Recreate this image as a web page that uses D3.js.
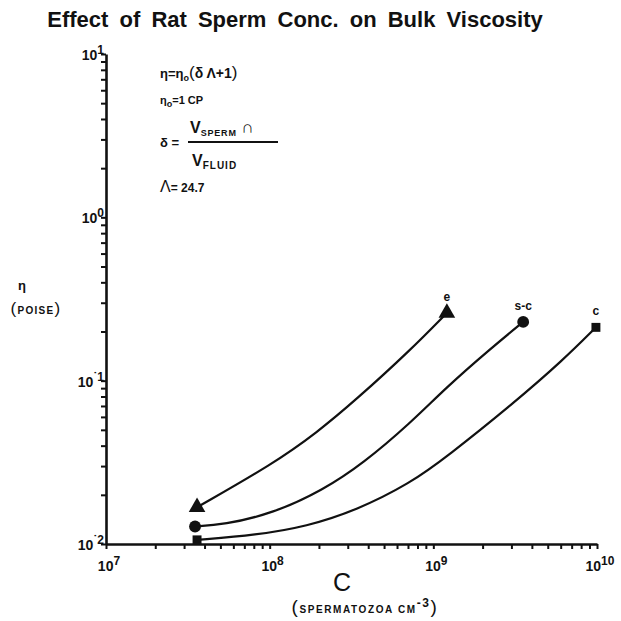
<!DOCTYPE html>
<html>
<head>
<meta charset="utf-8">
<script src="https://cdn.jsdelivr.net/npm/d3@7"></script>
<style>
  body { margin: 0; background: #fff; }
  svg text { font-family: "Liberation Sans", Arial, sans-serif; font-weight: bold; fill: #111; }
</style>
</head>
<body>
<div class="chart-container"></div>
<script>
//! DATA
const seriesNames = ['e', 's-c', 'c']

const eC   = [3.6e7, 1.05e8, 1.94e8, 3.4e8, 7.2e8, 1.21e9]
const eEta = [0.0168, 0.031, 0.048, 0.077, 0.153, 0.26]

const scC   = [3.5e7, 5.2e7, 1.05e8, 2.12e8, 3.73e8, 7.2e8, 1.21e9, 2.22e9, 3.54e9]
const scEta = [0.0128, 0.0131, 0.0154, 0.0214, 0.0312, 0.0547, 0.0917, 0.156, 0.229]

const cC   = [3.6e7, 8.3e7, 1.68e8, 3.4e8, 7.2e8, 1.21e9, 3.08e9, 6.2e9, 9.85e9]
const cEta = [0.0106, 0.01135, 0.0128, 0.0161, 0.0235, 0.0342, 0.0725, 0.1335, 0.212]

const xTickExps = [7, 8, 9, 10]
const yTickExps = [-2, -1, 0, 1]

//! CONSTS
const WIDTH = 621
const HEIGHT = 621

const svg = d3.select('.chart-container')
  .append('svg')
  .attr('width', WIDTH)
  .attr('height', HEIGHT)

//! SCALES
const xScale = d3.scaleLog().domain([1e7, 1e10]).range([106, 597])
const yScale = d3.scaleLog().domain([1e-2, 1e1]).range([544, 54])

//! AXES
const xAxis = d3.axisBottom(xScale)
  .tickValues(xScale.ticks())
  .tickFormat('')
  .tickSize(5)
  .tickSizeOuter(0)

const yAxis = d3.axisLeft(yScale)
  .tickValues(yScale.ticks())
  .tickFormat('')
  .tickSize(5)
  .tickSizeOuter(0)

const gx = svg.append('g').attr('transform', 'translate(0,544)').call(xAxis)
const gy = svg.append('g').attr('transform', 'translate(106,0)').call(yAxis)
;[gx, gy].forEach(g => {
  g.select('.domain').attr('stroke', '#111').attr('stroke-width', 2.6)
  g.selectAll('.tick line').attr('stroke', '#111').attr('stroke-width', 2)
})

// tick labels 10^n
xTickExps.forEach(p => {
  const t = svg.append('text')
    .attr('x', xScale(Math.pow(10, p)) + 3)
    .attr('y', 571)
    .attr('text-anchor', 'middle')
    .style('font-size', '14px')
  t.append('tspan').text('10')
  t.append('tspan').attr('dy', -6).style('font-size', '12px').text(p)
})

yTickExps.forEach(p => {
  const t = svg.append('text')
    .attr('x', 104)
    .attr('y', yScale(Math.pow(10, p)) + 6)
    .attr('text-anchor', 'end')
    .style('font-size', '14px')
  t.append('tspan').text('10')
  t.append('tspan').attr('dy', -6).style('font-size', '12px').text(p < 0 ? '\u02D9' + Math.abs(p) : p)
})

//! TITLE + LABELS
svg.append('text')
  .attr('x', 295).attr('y', 27)
  .attr('text-anchor', 'middle')
  .style('font-size', '22px')
  .style('word-spacing', '5px')
  .text('Effect of Rat Sperm Conc. on Bulk Viscosity')

svg.append('text')
  .attr('x', 342).attr('y', 591)
  .attr('text-anchor', 'middle')
  .style('font-size', '25px')
  .style('font-weight', 'normal')
  .text('C')

const xl = svg.append('text')
  .attr('x', 365).attr('y', 613)
  .attr('text-anchor', 'middle')
  .style('font-size', '10px')
  .style('letter-spacing', '1.6px')
xl.append('tspan').style('font-size', '19px').style('font-weight', 'normal').text('(')
xl.append('tspan').text('SPERMATOZOA  CM')
xl.append('tspan').attr('dy', -6).style('font-size', '12px').text('-3')
xl.append('tspan').attr('dy', 6).style('font-size', '19px').style('font-weight', 'normal').text(')')

svg.append('text')
  .attr('x', 22).attr('y', 290)
  .attr('text-anchor', 'middle')
  .style('font-size', '13px')
  .text('\u03B7')

const yl = svg.append('text')
  .attr('x', 36).attr('y', 314)
  .attr('text-anchor', 'middle')
  .style('font-size', '10px')
  .style('letter-spacing', '1.3px')
yl.append('tspan').style('font-size', '17px').style('font-weight', 'normal').text('(')
yl.append('tspan').text('POISE')
yl.append('tspan').style('font-size', '17px').style('font-weight', 'normal').text(')')

//! EQUATIONS
const eq1 = svg.append('text').attr('x', 160).attr('y', 78).style('font-size', '13px')
eq1.append('tspan').text('\u03B7=\u03B7')
eq1.append('tspan').attr('dy', 3).style('font-size', '9px').text('o')
eq1.append('tspan').attr('dy', -3).style('font-size', '17px').style('font-weight', 'normal').text('(')
eq1.append('tspan').style('font-size', '14px').text('\u03B4 \u039B+1')
eq1.append('tspan').style('font-size', '17px').style('font-weight', 'normal').text(')')

const eq2 = svg.append('text').attr('x', 160).attr('y', 104).style('font-size', '11px')
eq2.append('tspan').text('\u03B7')
eq2.append('tspan').attr('dy', 3).style('font-size', '9px').text('o')
eq2.append('tspan').attr('dy', -3).text('=1 CP')

svg.append('text').attr('x', 160).attr('y', 147).style('font-size', '13px').text('\u03B4 =')

const num = svg.append('text').attr('x', 190).attr('y', 133).style('font-size', '16px')
num.append('tspan').text('V')
num.append('tspan').attr('dy', 3).style('font-size', '9px').style('letter-spacing', '0.8px').text('SPERM')
num.append('tspan').attr('dy', -3).style('font-size', '17px').style('font-weight', 'normal').text(' \u2229')

svg.append('line')
  .attr('x1', 188).attr('x2', 278).attr('y1', 142).attr('y2', 142)
  .attr('stroke', '#111').attr('stroke-width', 2)

const den = svg.append('text').attr('x', 192).attr('y', 166).style('font-size', '16px')
den.append('tspan').text('V')
den.append('tspan').attr('dy', 3).style('font-size', '10px').style('letter-spacing', '1px').text('FLUID')

const eq4 = svg.append('text').attr('x', 160).attr('y', 192).style('font-size', '12px')
eq4.append('tspan').style('font-size', '16px').style('font-weight', 'normal').text('\u039B')
eq4.append('tspan').text('= 24.7')

//! CURVES
const series = [
  { name: seriesNames[0], C: eC, eta: eEta, symbol: d3.symbolTriangle, size: 120 },
  { name: seriesNames[1], C: scC, eta: scEta, symbol: d3.symbolCircle, size: 110 },
  { name: seriesNames[2], C: cC, eta: cEta, symbol: d3.symbolSquare, size: 80 }
]

const line = d3.line()
  .x(d => xScale(d[0]))
  .y(d => yScale(d[1]))
  .curve(d3.curveBasis)

series.forEach(s => {
  const pts = s.C.map((c, i) => [c, s.eta[i]])
  svg.append('path')
    .attr('d', line(pts))
    .attr('fill', 'none')
    .attr('stroke', '#111')
    .attr('stroke-width', 2.2)

  const ends = [pts[0], pts[pts.length - 1]]
  svg.selectAll(null)
    .data(ends)
    .enter()
    .append('path')
    .attr('d', d3.symbol().type(s.symbol).size(s.size))
    .attr('transform', d => `translate(${xScale(d[0])},${yScale(d[1])})`)
    .attr('fill', '#111')

  const last = ends[1]
  svg.append('text')
    .attr('x', xScale(last[0]))
    .attr('y', yScale(last[1]) - 12)
    .attr('text-anchor', 'middle')
    .style('font-size', '12px')
    .text(s.name)
})
</script>
</body>
</html>
